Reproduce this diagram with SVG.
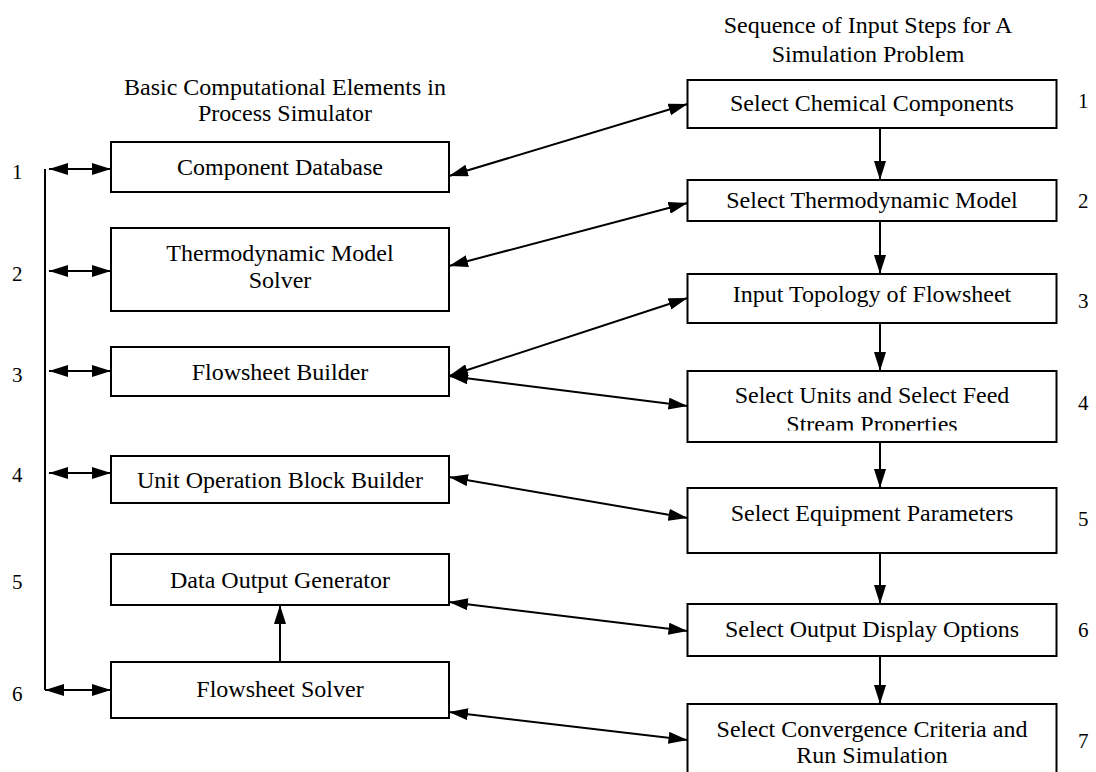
<svg xmlns="http://www.w3.org/2000/svg" width="1096" height="772" viewBox="0 0 1096 772">
<style>
text{font-family:"Liberation Serif","Times New Roman",serif;font-size:24px;fill:#000}
.c{text-anchor:middle}
.n{font-size:21px}
rect{fill:#fff;stroke:#000;stroke-width:2}
.ln{stroke:#000;stroke-width:2;fill:none}
</style>
<defs>
<marker id="ah" markerUnits="userSpaceOnUse" markerWidth="19" markerHeight="12" refX="19" refY="6" orient="auto-start-reverse">
<path d="M0,0 L19,6 L0,12 z" fill="#000"/>
</marker>
<clipPath id="clip4"><rect x="687" y="371" width="370" height="59.5"/></clipPath>
</defs>
<rect x="0" y="0" width="1096" height="772" style="stroke:none;fill:#fff"/>

<g id="headers">
<text class="c" x="285" y="95">Basic Computational Elements in</text>
<text class="c" x="285" y="121">Process Simulator</text>
<text class="c" x="868" y="33">Sequence of Input Steps for A</text>
<text class="c" x="868" y="62">Simulation Problem</text>
</g>

<g id="left-numbers">
<text class="n" x="12" y="179">1</text>
<text class="n" x="12" y="281">2</text>
<text class="n" x="12" y="382">3</text>
<text class="n" x="12" y="482">4</text>
<text class="n" x="12" y="589">5</text>
<text class="n" x="12" y="701">6</text>
</g>
<g id="right-numbers">
<text class="n" x="1078" y="108">1</text>
<text class="n" x="1078" y="208">2</text>
<text class="n" x="1078" y="308">3</text>
<text class="n" x="1078" y="410">4</text>
<text class="n" x="1078" y="526">5</text>
<text class="n" x="1078" y="637">6</text>
<text class="n" x="1078" y="748">7</text>
</g>

<g id="component-database"><rect x="111" y="142" width="338" height="50"/><text class="c" x="280" y="175">Component Database</text></g>
<g id="thermodynamic-model-solver"><rect x="111" y="228" width="338" height="83"/><text class="c" x="280" y="261">Thermodynamic Model</text><text class="c" x="280" y="288">Solver</text></g>
<g id="flowsheet-builder"><rect x="111" y="347" width="338" height="49"/><text class="c" x="280" y="380">Flowsheet Builder</text></g>
<g id="unit-operation-block-builder"><rect x="111" y="456" width="338" height="47"/><text class="c" x="280" y="488">Unit Operation Block Builder</text></g>
<g id="data-output-generator"><rect x="111" y="554" width="338" height="51"/><text class="c" x="280" y="588">Data Output Generator</text></g>
<g id="flowsheet-solver"><rect x="111" y="662" width="338" height="56"/><text class="c" x="280" y="697">Flowsheet Solver</text></g>

<g id="select-chemical-components"><rect x="687.5" y="80" width="369" height="48"/><text class="c" x="872" y="111">Select Chemical Components</text></g>
<g id="select-thermodynamic-model"><rect x="687.5" y="180" width="369" height="41"/><text class="c" x="872" y="208">Select Thermodynamic Model</text></g>
<g id="input-topology"><rect x="687.5" y="274" width="369" height="49"/><text class="c" x="872" y="302">Input Topology of Flowsheet</text></g>
<g id="select-units"><rect x="687.5" y="371" width="369" height="71"/><text class="c" x="872" y="403">Select Units and Select Feed</text><text class="c" x="872" y="432" clip-path="url(#clip4)">Stream Properties</text></g>
<g id="select-equipment-parameters"><rect x="687.5" y="488" width="369" height="65"/><text class="c" x="872" y="521">Select Equipment Parameters</text></g>
<g id="select-output-display-options"><rect x="687.5" y="604" width="369" height="52"/><text class="c" x="872" y="637">Select Output Display Options</text></g>
<g id="select-convergence-criteria"><rect x="687.5" y="704" width="369" height="90"/><text class="c" x="872" y="737">Select Convergence Criteria and</text><text class="c" x="872" y="763">Run Simulation</text></g>

<g id="connectors">
<path class="ln" d="M45,169 V690"/>
<path class="ln" d="M49,169 H111" marker-start="url(#ah)" marker-end="url(#ah)"/>
<path class="ln" d="M49,271 H111" marker-start="url(#ah)" marker-end="url(#ah)"/>
<path class="ln" d="M49,371 H111" marker-start="url(#ah)" marker-end="url(#ah)"/>
<path class="ln" d="M49,473 H111" marker-start="url(#ah)" marker-end="url(#ah)"/>
<path class="ln" d="M45,690 H111" marker-start="url(#ah)" marker-end="url(#ah)"/>
<path class="ln" d="M280,662 V605" marker-end="url(#ah)"/>

<path class="ln" d="M880,128 V180" marker-end="url(#ah)"/>
<path class="ln" d="M880,221 V274" marker-end="url(#ah)"/>
<path class="ln" d="M880,323 V371" marker-end="url(#ah)"/>
<path class="ln" d="M880,442 V488" marker-end="url(#ah)"/>
<path class="ln" d="M880,553 V604" marker-end="url(#ah)"/>
<path class="ln" d="M880,656 V704" marker-end="url(#ah)"/>

<path class="ln" d="M449,176 L687.5,104" marker-start="url(#ah)" marker-end="url(#ah)"/>
<path class="ln" d="M449,266 L687.5,203" marker-start="url(#ah)" marker-end="url(#ah)"/>
<path class="ln" d="M449,376 L687.5,298" marker-start="url(#ah)" marker-end="url(#ah)"/>
<path class="ln" d="M449,376 L687.5,406" marker-start="url(#ah)" marker-end="url(#ah)"/>
<path class="ln" d="M449,477 L687.5,518" marker-start="url(#ah)" marker-end="url(#ah)"/>
<path class="ln" d="M449,602 L687.5,631" marker-start="url(#ah)" marker-end="url(#ah)"/>
<path class="ln" d="M449,712 L687.5,740" marker-start="url(#ah)" marker-end="url(#ah)"/>
</g>
</svg>
